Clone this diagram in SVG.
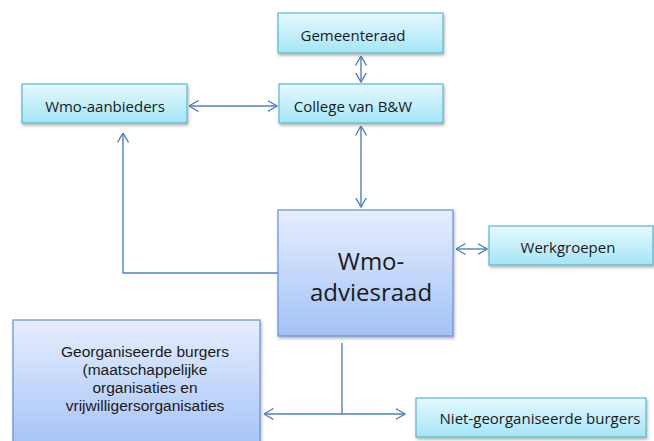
<svg xmlns="http://www.w3.org/2000/svg" width="654" height="441" viewBox="0 0 654 441">
<defs>
  <linearGradient id="gCyan" x1="0" y1="0" x2="0" y2="1">
    <stop offset="0" stop-color="#e6f9fe"/>
    <stop offset="1" stop-color="#a4e5f6"/>
  </linearGradient>
  <linearGradient id="gBlue" x1="0" y1="0" x2="0" y2="1">
    <stop offset="0" stop-color="#e7eefd"/>
    <stop offset="1" stop-color="#a3c2f7"/>
  </linearGradient>
  <filter id="sh" x="-10%" y="-10%" width="125%" height="135%">
    <feDropShadow dx="1" dy="2" stdDeviation="1.5" flood-color="#000" flood-opacity="0.3"/>
  </filter>
  <marker id="ah" viewBox="0 0 10 12" refX="9.5" refY="6" markerWidth="10" markerHeight="12" markerUnits="userSpaceOnUse" orient="auto-start-reverse">
    <path d="M0,0.5 L9.5,6 L0,11.5" fill="none" stroke="#4f81bd" stroke-width="1.4"/>
  </marker>
</defs>
<style>
  .cyan { fill: url(#gCyan); stroke: #5cb6cf; stroke-width: 1.2; filter: url(#sh); }
  .blue { fill: url(#gBlue); stroke: #6690d6; stroke-width: 1.2; filter: url(#sh); }
  .t { font-family: "Open Sans", "Noto Sans", sans-serif; font-size: 15px; fill: #1a1a1a; text-anchor: middle; }
  .big { font-size: 24px; }
  .m { font-family: "Liberation Sans", Arial, sans-serif; font-size: 15.5px; }
  .c { fill: none; stroke: #4f81bd; stroke-width: 1.4; }
</style>

<g id="connectors">
  <line class="c" x1="361" y1="56" x2="361" y2="82" marker-start="url(#ah)" marker-end="url(#ah)"/>
  <line class="c" x1="189" y1="106" x2="277" y2="106" marker-start="url(#ah)" marker-end="url(#ah)"/>
  <line class="c" x1="361" y1="126" x2="361" y2="207" marker-start="url(#ah)" marker-end="url(#ah)"/>
  <line class="c" x1="456" y1="249" x2="487" y2="249" marker-start="url(#ah)" marker-end="url(#ah)"/>
  <polyline class="c" points="278,273 123,273 123,133" marker-end="url(#ah)"/>
  <line class="c" x1="342" y1="343" x2="342" y2="414"/>
  <line class="c" x1="264" y1="414" x2="405" y2="414" marker-start="url(#ah)" marker-end="url(#ah)"/>
</g>

<g id="gemeenteraad">
  <rect class="cyan" x="278" y="13" width="165" height="40"/>
  <text class="t" x="353" y="41">Gemeenteraad</text>
</g>

<g id="college">
  <rect class="cyan" x="279" y="84" width="164" height="39"/>
  <text class="t" x="353" y="112">College van B&amp;W</text>
</g>

<g id="wmo-aanbieders">
  <rect class="cyan" x="22" y="84" width="165" height="39"/>
  <text class="t" x="105" y="112">Wmo-aanbieders</text>
</g>

<g id="wmo-adviesraad">
  <rect class="blue" x="278" y="210" width="175" height="126"/>
  <text class="t big" x="371" y="270">Wmo-</text>
  <text class="t big" x="371" y="301">adviesraad</text>
</g>

<g id="werkgroepen">
  <rect class="cyan" x="489" y="226" width="164" height="39"/>
  <text class="t" x="568" y="253">Werkgroepen</text>
</g>

<g id="georganiseerde-burgers">
  <rect class="blue" x="13" y="320" width="247" height="130"/>
  <text class="t m" x="145" y="357">Georganiseerde burgers</text>
  <text class="t m" x="145" y="375">(maatschappelijke</text>
  <text class="t m" x="145" y="393">organisaties en</text>
  <text class="t m" x="145" y="411">vrijwilligersorganisaties</text>
</g>

<g id="niet-georganiseerde-burgers">
  <rect class="cyan" x="416" y="398" width="230" height="39"/>
  <text class="t" x="540" y="424">Niet-georganiseerde burgers</text>
</g>
</svg>
